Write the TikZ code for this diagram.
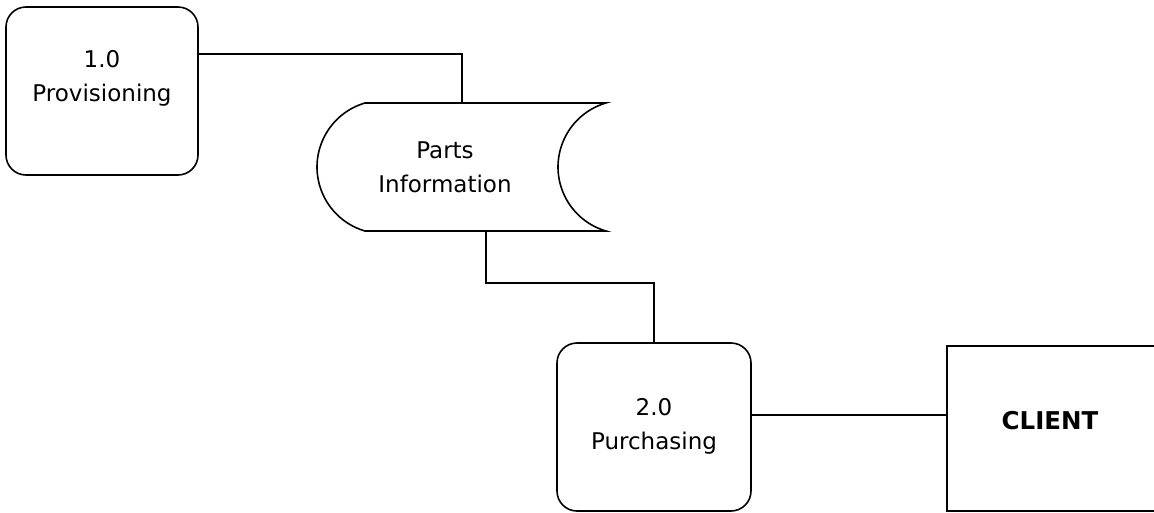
\documentclass[tikz,border=0pt]{standalone}
\usepackage{fontspec}
\setmainfont{DejaVu Sans}
\usetikzlibrary{calc}
\begin{document}
\begin{tikzpicture}[x=1pt,y=-1pt, line width=1.6pt,
  procbox/.style={draw, line width=1.6pt, rounded corners=20pt, minimum width=#1, minimum height=168pt, inner sep=0pt},
  proclabel/.style={align=center, font=\fontsize{23}{34}\selectfont, inner sep=0pt},
  entitylabel/.style={font=\fontsize{24.5}{28}\selectfont\bfseries, inner sep=0pt},
  flow/.style={draw, line width=1.6pt}]
\useasboundingbox (0,0) rectangle (1154,512);

% processes
\node[procbox=192pt] (p1) at (102,91) {};
\node[proclabel] (p1t) at (102,78) {1.0\\Provisioning};
\node[procbox=194pt] (p2) at (654,427) {};
\node[proclabel] (p2t) at (654,426) {2.0\\Purchasing};

% data store
\draw (365,103) arc[start angle=253.7, end angle=106.3, radius=66.7]
  -- (606,231) arc[start angle=106.3, end angle=253.7, radius=66.7] -- cycle;
\node[proclabel] (store) at (445,167) {Parts\\Information};
\coordinate (storeTop) at (462,103);
\coordinate (storeBot) at (486,231);

% external entity
\draw (947,346) rectangle (1170,511);
\node[entitylabel] (client) at (1050,421) {CLIENT};
\coordinate (clientW) at (947,415);

% connection points on the processes
\coordinate (p1E) at ($(p1.east)+(0,-37)$);
\coordinate (p2E) at ($(p2.east)+(0,-12)$);
\coordinate (bend) at (654,283);

% data flows
\draw[flow] (p1E) -| (storeTop);
\draw[flow] (storeBot) |- (bend) -- (p2.north);
\draw[flow] (p2E) -- (clientW);
\end{tikzpicture}
\end{document}
